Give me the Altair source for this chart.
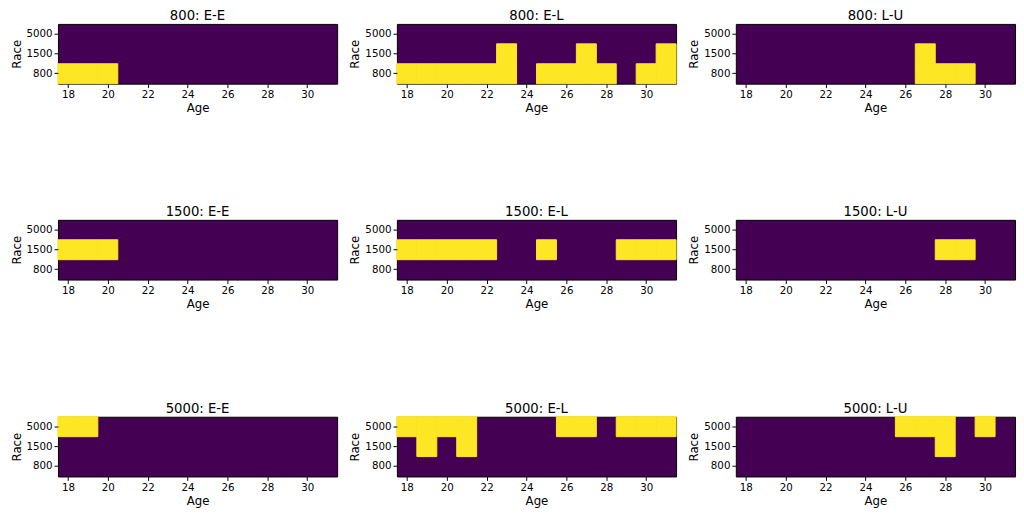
import altair as alt
import pandas as pd

ages = list(range(18, 32))
races_top_to_bottom = ["5000", "1500", "800"]
race_groups = ["800", "1500", "5000"]
patterns = ["E-E", "E-L", "L-U"]

Z = [0] * 14

# each panel: rows for races 5000, 1500, 800 ; columns ages 18..31
m_800_EE = [Z,
            Z,
            [1, 1, 1, 0, 0, 0, 0, 0, 0, 0, 0, 0, 0, 0]]
m_800_EL = [Z,
            [0, 0, 0, 0, 0, 1, 0, 0, 0, 1, 0, 0, 0, 1],
            [1, 1, 1, 1, 1, 1, 0, 1, 1, 1, 1, 0, 1, 1]]
m_800_LU = [Z,
            [0, 0, 0, 0, 0, 0, 0, 0, 0, 1, 0, 0, 0, 0],
            [0, 0, 0, 0, 0, 0, 0, 0, 0, 1, 1, 1, 0, 0]]
m_1500_EE = [Z,
             [1, 1, 1, 0, 0, 0, 0, 0, 0, 0, 0, 0, 0, 0],
             Z]
m_1500_EL = [Z,
             [1, 1, 1, 1, 1, 0, 0, 1, 0, 0, 0, 1, 1, 1],
             Z]
m_1500_LU = [Z,
             [0, 0, 0, 0, 0, 0, 0, 0, 0, 0, 1, 1, 0, 0],
             Z]
m_5000_EE = [[1, 1, 0, 0, 0, 0, 0, 0, 0, 0, 0, 0, 0, 0],
             Z,
             Z]
m_5000_EL = [[1, 1, 1, 1, 0, 0, 0, 0, 1, 1, 0, 1, 1, 1],
             [0, 1, 0, 1, 0, 0, 0, 0, 0, 0, 0, 0, 0, 0],
             Z]
m_5000_LU = [[0, 0, 0, 0, 0, 0, 0, 0, 1, 1, 1, 0, 1, 0],
             [0, 0, 0, 0, 0, 0, 0, 0, 0, 0, 1, 0, 0, 0],
             Z]

matrices = {
    ("800", "E-E"): m_800_EE, ("800", "E-L"): m_800_EL, ("800", "L-U"): m_800_LU,
    ("1500", "E-E"): m_1500_EE, ("1500", "E-L"): m_1500_EL, ("1500", "L-U"): m_1500_LU,
    ("5000", "E-E"): m_5000_EE, ("5000", "E-L"): m_5000_EL, ("5000", "L-U"): m_5000_LU,
}

FONT = "DejaVu Sans"
LOW = "#440154"
HIGH = "#fde725"


def panel(group, pat):
    m = matrices[(group, pat)]
    rows = []
    for ri, race in enumerate(races_top_to_bottom):
        for ai, age in enumerate(ages):
            rows.append({"race": race, "age": age, "v": m[ri][ai]})
    df = pd.DataFrame(rows)
    return (
        alt.Chart(df, title=alt.TitleParams(f"{group}: {pat}", fontSize=13.5,
                                            font=FONT, fontWeight="normal",
                                            offset=1, color="black"))
        .transform_filter("datum.v == 1")
        .transform_calculate(x0="datum.age - 0.5", x1="datum.age + 0.5")
        .mark_rect(strokeWidth=1, strokeOpacity=1, opacity=1)
        .encode(
            x=alt.X("x0:Q", title="Age",
                    scale=alt.Scale(domain=[17.5, 31.5], nice=False, zero=False),
                    axis=alt.Axis(values=[18, 20, 22, 24, 26, 28, 30], grid=False)),
            x2="x1:Q",
            y=alt.Y("race:O", title="Race", sort=races_top_to_bottom,
                    scale=alt.Scale(domain=races_top_to_bottom, paddingInner=0, paddingOuter=0)),
            color=alt.Color("v:O", scale=alt.Scale(domain=[0, 1], range=[LOW, HIGH]),
                            legend=None),
            stroke=alt.Stroke("v:O", scale=alt.Scale(domain=[0, 1], range=[LOW, HIGH]),
                              legend=None),
        )
        .properties(width=285, height=61)
    )


rows = []
for g in race_groups:
    rows.append(alt.hconcat(*[panel(g, p) for p in patterns], spacing=10))

chart = (
    alt.vconcat(*rows, spacing=93)
    .properties(padding={"left": 1, "top": -4, "right": 0, "bottom": 0})
    .configure_view(stroke="black", strokeWidth=1, fill=LOW)
    .configure_axis(
        domain=False,
        tickColor="black",
        tickSize=4,
        labelFont=FONT,
        labelFontSize=10.5,
        labelColor="black",
        titleFont=FONT,
        titleFontSize=12,
        titleFontWeight="normal",
        titleColor="black",
        labelPadding=2,
        titlePadding=3,
    )
    .configure_axisX(labelAngle=0)
)

chart.save("out.html", embed_options={"renderer": "svg", "actions": False})
